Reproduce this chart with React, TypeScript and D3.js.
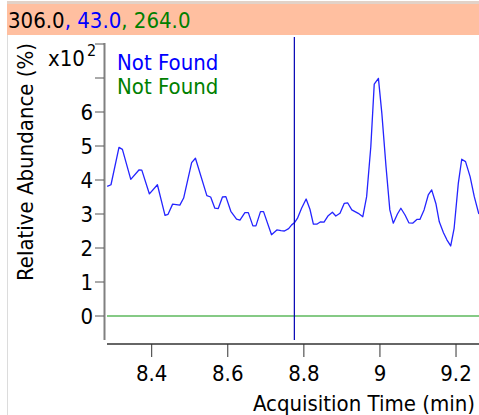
import React from "react";
import * as d3 from "d3";

const W = 479;
const H = 415;

// Retention times (min) and relative abundance (x10^2 %)
const times = [
  8.283, 8.293, 8.314, 8.323, 8.345, 8.367, 8.374, 8.394, 8.415, 8.435,
  8.443, 8.455, 8.474, 8.484, 8.505, 8.515, 8.545, 8.555, 8.566, 8.575,
  8.586, 8.595, 8.608, 8.623, 8.632, 8.645, 8.654, 8.666, 8.674, 8.686,
  8.694, 8.715, 8.729, 8.74, 8.749, 8.76, 8.768, 8.775, 8.783, 8.794,
  8.806, 8.816, 8.825, 8.834, 8.844, 8.853, 8.864, 8.875, 8.884, 8.895,
  8.906, 8.915, 8.926, 8.943, 8.955, 8.965, 8.976, 8.985, 8.996, 9.005,
  9.016, 9.026, 9.035, 9.046, 9.055, 9.066, 9.076, 9.086, 9.097, 9.105,
  9.116, 9.127, 9.136, 9.147, 9.156, 9.167, 9.176, 9.186, 9.195, 9.206,
  9.215, 9.225, 9.237, 9.248, 9.26,
];
const abundance = [
  3.81, 3.86, 4.96, 4.9, 4.02, 4.3, 4.29, 3.59, 3.86, 2.96,
  2.99, 3.29, 3.26, 3.47, 4.51, 4.64, 3.54, 3.5, 3.17, 3.16,
  3.5, 3.51, 3.08, 2.85, 2.82, 3.04, 3.04, 2.65, 2.65, 3.07,
  3.07, 2.39, 2.53, 2.51, 2.5, 2.57, 2.68, 2.74, 2.87, 3.17,
  3.44, 3.14, 2.7, 2.7, 2.77, 2.76, 2.95, 3.05, 2.94, 3.02,
  3.31, 3.33, 3.12, 3.02, 2.92, 3.51, 4.98, 6.82, 6.99, 5.96,
  4.39, 3.12, 2.73, 3.0, 3.17, 2.97, 2.74, 2.73, 2.84, 2.84,
  3.12, 3.56, 3.71, 3.31, 2.77, 2.45, 2.24, 2.06, 2.58, 3.9,
  4.61, 4.54, 4.1, 3.51, 3.0,
];
const flatTrace = [0, 0];
const flatTimes = [8.2825, 9.2604];

const xTicks = [8.4, 8.6, 8.8, 9.0, 9.2];
const xTickLabels = ["8.4", "8.6", "8.8", "9", "9.2"];
const yTicks = [0, 1, 2, 3, 4, 5, 6, 7, 8];
const yTickLabels = ["0", "1", "2", "3", "4", "5", "6", "", ""];
const cursorTime = 8.775;

const headerParts = [
  { text: "306.0", color: "#000000" },
  { text: ", 43.0", color: "#0000ff" },
  { text: ", 264.0", color: "#008000" },
];
const legendItems = [
  { text: "Not Found", color: "#0000ff" },
  { text: "Not Found", color: "#008000" },
];

const FONT = "'DejaVu Sans Condensed', 'DejaVu Sans', sans-serif";

export default function App() {
  const x = d3.scaleLinear().domain([8.2825, 9.2604]).range([107, 479]);
  const y = d3.scaleLinear().domain([-0.7, 8]).range([339.8, 44]);

  const line = d3
    .line<number>()
    .x((_, i) => x(times[i]))
    .y((d) => y(d));
  const flatLine = d3
    .line<number>()
    .x((_, i) => x(flatTimes[i]))
    .y((d) => y(d));

  return (
    <svg
      width={W}
      height={H}
      style={{ position: "absolute", left: 0, top: 0, background: "#fff" }}
      fontFamily={FONT}
    >
      <defs>
        <clipPath id="plot">
          <rect x={105} y={37} width={W - 105} height={304} />
        </clipPath>
      </defs>
      <rect x={0} y={0} width={W} height={H} fill="#ffffff" />
      {/* left frame line */}
      <line x1={7.5} x2={7.5} y1={35} y2={H} stroke="#dcdcdc" strokeWidth={1} />
      {/* header */}
      <rect x={7} y={1} width={W - 7} height={3} fill="#e2d2c8" />
      <rect x={7} y={4} width={W - 7} height={31} fill="#ffbfa0" />
      <text x={8} y={28} fontSize={22}>
        {headerParts.map((p, i) => (
          <tspan key={i} fill={p.color}>
            {p.text}
          </tspan>
        ))}
      </text>

      {/* legend */}
      {legendItems.map((l, i) => (
        <text key={i} x={117} y={70 + i * 24} fontSize={22} fill={l.color}>
          {l.text}
        </text>
      ))}

      {/* y axis */}
      <line x1={104.5} x2={104.5} y1={43} y2={340} stroke="#808080" strokeWidth={2} />
      {yTicks.map((t, i) => (
        <g key={t}>
          <line x1={95} x2={104} y1={y(t)} y2={y(t)} stroke="#555" strokeWidth={1} />
          {yTickLabels[i] && (
            <text x={93} y={y(t) + 8} fontSize={22} textAnchor="end" fill="#000">
              {yTickLabels[i]}
            </text>
          )}
        </g>
      ))}
      <text x={48} y={66} fontSize={22} fill="#000">
        x10
      </text>
      <text x={87} y={56} fontSize={16} fill="#000">
        2
      </text>
      <text
        transform={`translate(33,162) rotate(-90)`}
        fontSize={22}
        textAnchor="middle"
        fill="#000"
      >
        Relative Abundance (%)
      </text>

      {/* x axis */}
      <line x1={107} x2={W} y1={344} y2={344} stroke="#333" strokeWidth={1.3} />
      {xTicks.map((t, i) => (
        <g key={t}>
          <line x1={x(t)} x2={x(t)} y1={344} y2={357} stroke="#333" strokeWidth={1} />
          <text x={x(t)} y={381} fontSize={22} textAnchor="middle" fill="#000">
            {xTickLabels[i]}
          </text>
        </g>
      ))}
      <text x={475} y={411} fontSize={22} textAnchor="end" fill="#000">
        Acquisition Time (min)
      </text>

      {/* traces */}
      <g clipPath="url(#plot)">
        <path d={flatLine(flatTrace) || ""} fill="none" stroke="#5cb85c" strokeWidth={1.3} />
        <path d={line(abundance) || ""} fill="none" stroke="#2424ff" strokeWidth={1.3} strokeLinejoin="round" />
        <line
          x1={x(cursorTime)}
          x2={x(cursorTime)}
          y1={37}
          y2={340}
          stroke="#0000b4"
          strokeWidth={1.2}
        />
      </g>
    </svg>
  );
}
